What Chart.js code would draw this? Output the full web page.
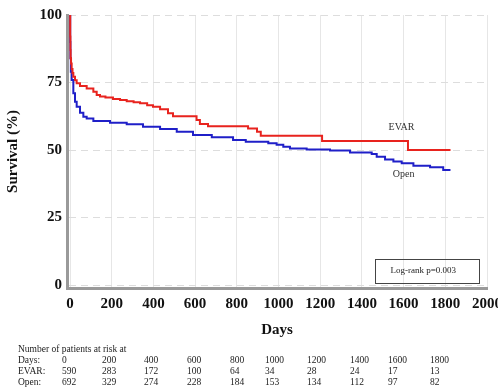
<!DOCTYPE html>
<html>
<head>
<meta charset="utf-8">
<script src="https://cdn.jsdelivr.net/npm/chart.js@4"></script>
<style>
  html, body { margin: 0; padding: 0; background: #ffffff; }
  canvas { display: block; }
</style>
</head>
<body>
<canvas id="c" width="498" height="388"></canvas>
<script>
// ---- data ----
const evarDays = [0, 1, 2, 3, 5, 8, 12, 16, 24, 32, 48, 80, 112, 128, 144, 170, 206, 240, 272, 305, 336, 370, 398, 432, 470, 494, 607, 623, 662, 854, 897, 915, 1209, 1621, 1825];
const evarSurv = [100, 92, 87, 84, 82, 80, 78.5, 77.1, 75.8, 74.7, 73.7, 72.8, 71.6, 70.4, 69.8, 69.4, 68.9, 68.5, 68.1, 67.7, 67.3, 66.6, 66, 65.1, 63.6, 62.5, 61.1, 59.6, 58.8, 58, 56.8, 55.3, 53.3, 50, 50];
const openDays = [0, 1, 2, 4, 8, 16, 24, 32, 48, 64, 80, 112, 192, 272, 350, 432, 512, 590, 680, 782, 843, 951, 991, 1023, 1055, 1135, 1247, 1343, 1447, 1471, 1511, 1551, 1591, 1647, 1727, 1790, 1820];
const openSurv = [100, 90, 84, 79, 75.9, 71, 67.9, 66, 63.8, 62.3, 61.7, 60.7, 60.1, 59.5, 58.6, 57.8, 56.8, 55.6, 54.7, 53.7, 53.1, 52.5, 51.9, 51.2, 50.6, 50.2, 49.8, 49.1, 48.5, 47.5, 46.5, 45.7, 45.1, 44.2, 43.6, 42.6, 42.2];
const xTickValues = [0, 200, 400, 600, 800, 1000, 1200, 1400, 1600, 1800, 2000];
const yTickValues = [0, 25, 50, 75, 100];
const riskDays = ['0', '200', '400', '600', '800', '1000', '1200', '1400', '1600', '1800'];
const riskEvar = ['590', '283', '172', '100', '64', '34', '28', '24', '17', '13'];
const riskOpen = ['692', '329', '274', '228', '184', '153', '134', '112', '97', '82'];
const riskTitle = 'Number of patients at risk at';
const riskRowLabels = ['Days:', 'EVAR:', 'Open:'];
const seriesNames = ['EVAR', 'Open'];
const pValueText = 'Log-rank p=0.003';

const toPts = (xs, ys) => xs.map((x, i) => ({ x: x, y: ys[i] }));

const serif = '"Liberation Serif", "Times New Roman", serif';

const overlay = {
  id: 'overlay',
  afterDraw(chart) {
    const ctx = chart.ctx;
    const xs = chart.scales.x, ys = chart.scales.y;
    ctx.save();
    // series labels
    ctx.fillStyle = '#333';
    ctx.font = '10px ' + serif;
    ctx.textAlign = 'center';
    ctx.textBaseline = 'middle';
    ctx.fillText(seriesNames[0], xs.getPixelForValue(1590), ys.getPixelForValue(58.5));
    ctx.fillText(seriesNames[1], xs.getPixelForValue(1600), ys.getPixelForValue(40.8));
    // log-rank box
    const bx0 = xs.getPixelForValue(1464), bx1 = xs.getPixelForValue(1963);
    const by0 = ys.getPixelForValue(9.6), by1 = ys.getPixelForValue(0.7);
    ctx.strokeStyle = '#444';
    ctx.lineWidth = 1;
    ctx.strokeRect(Math.round(bx0) + 0.5, Math.round(by0) + 0.5, Math.round(bx1 - bx0), Math.round(by1 - by0));
    ctx.font = '9px ' + serif;
    ctx.fillStyle = '#222';
    ctx.fillText(pValueText, (bx0 + bx1) / 2 - 4, (by0 + by1) / 2);
    // risk table
    const colX = [62, 102, 144, 187, 230, 265, 307, 350, 388, 430];
    const labelX = 18;
    const rowY = [349, 360.5, 371.5, 382];
    ctx.textAlign = 'left';
    ctx.font = '9.5px ' + serif;
    ctx.fillStyle = '#222';
    ctx.fillText(riskTitle, labelX, rowY[0]);
    const rows = [riskDays, riskEvar, riskOpen];
    rows.forEach((row, r) => {
      ctx.fillText(riskRowLabels[r], labelX, rowY[r + 1]);
      row.forEach((v, i) => ctx.fillText(v, colX[i], rowY[r + 1]));
    });
    ctx.restore();
  }
};

new Chart(document.getElementById('c'), {
  type: 'line',
  data: {
    datasets: [
      { label: seriesNames[0], data: toPts(evarDays, evarSurv), borderColor: '#e8231e', borderWidth: 2, pointRadius: 0, stepped: true, fill: false },
      { label: seriesNames[1], data: toPts(openDays, openSurv), borderColor: '#1f1fc8', borderWidth: 2, pointRadius: 0, stepped: true, fill: false }
    ]
  },
  options: {
    responsive: false,
    animation: false,
    devicePixelRatio: 1,
    layout: { padding: { left: 0, right: 11, top: 15, bottom: 0 } },
    plugins: { legend: { display: false }, tooltip: { enabled: false } },
    scales: {
      x: {
        type: 'linear',
        min: -14.4,
        max: 2000,
        afterBuildTicks: s => { s.ticks = xTickValues.map(v => ({ value: v })); },
        afterFit: s => { s.height = 100; s.paddingLeft = 0; s.paddingRight = 0; },
        grid: { color: '#e6e6e6', lineWidth: 1, drawTicks: false },
        border: { display: true, color: '#9a9a9a', width: 3 },
        ticks: { color: '#111', padding: 7, maxRotation: 0, autoSkip: false, font: { family: serif, size: 15, weight: 'bold' }, callback: v => String(v) },
        title: { display: true, text: 'Days', color: '#111', font: { family: serif, size: 15, weight: 'bold' }, padding: { top: 0, bottom: 49 } }
      },
      y: {
        type: 'linear',
        min: -1.111,
        max: 100,
        afterBuildTicks: s => { s.ticks = yTickValues.map(v => ({ value: v })); },
        afterFit: s => { s.width = 67; },
        grid: { color: '#dddddd', lineWidth: 1, drawTicks: false },
        border: { display: true, color: '#9a9a9a', width: 3, dash: [7, 5] },
        ticks: { color: '#111', padding: 5, font: { family: serif, size: 15, weight: 'bold' }, callback: v => String(v) },
        title: { display: true, text: 'Survival (%)', color: '#111', font: { family: serif, size: 15, weight: 'bold' }, padding: { top: 4, bottom: 4 } }
      }
    }
  },
  plugins: [overlay]
});
</script>
</body>
</html>
